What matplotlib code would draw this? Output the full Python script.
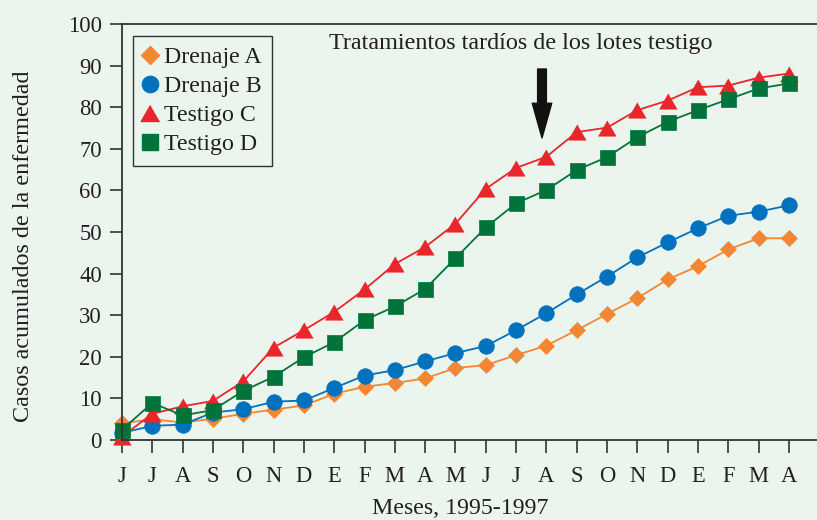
import matplotlib
matplotlib.use("Agg")
import matplotlib.pyplot as plt

plt.rcParams['font.family'] = ['Liberation Serif', 'DejaVu Serif']

months = ["J", "J", "A", "S", "O", "N", "D", "E", "F", "M", "A", "M",
          "J", "J", "A", "S", "O", "N", "D", "E", "F", "M", "A"]

drenaje_a = [4.0, 5.0, 4.2, 5.1, 6.3, 7.3, 8.3, 11.1, 12.8, 13.7, 14.8, 17.3,
             18.0, 20.4, 22.7, 26.4, 30.3, 34.1, 38.6, 41.8, 45.8, 48.5, 48.5]
drenaje_b = [1.7, 3.4, 3.7, 6.6, 7.4, 9.2, 9.5, 12.5, 15.5, 16.8, 18.9, 20.9,
             22.6, 26.4, 30.5, 35.0, 39.3, 43.9, 47.5, 50.9, 53.9, 54.9, 56.4]
testigo_c = [0.8, 6.3, 8.1, 9.4, 14.1, 22.2, 26.4, 30.8, 36.2, 42.3, 46.4, 52.0,
             60.4, 65.4, 68.1, 74.0, 75.1, 79.3, 81.6, 84.8, 85.2, 87.1, 88.1]
testigo_d = [2.5, 8.9, 5.9, 7.2, 11.8, 15.2, 19.9, 23.5, 28.8, 32.1, 36.3, 43.7,
             51.1, 56.9, 60.1, 64.9, 68.0, 72.8, 76.5, 79.3, 81.9, 84.5, 85.7]

annotation_text = "Tratamientos tardíos de los lotes testigo"
legend_labels = ["Drenaje A", "Drenaje B", "Testigo C", "Testigo D"]

BG = "#EBF5EE"
TXT = "#231F20"
C_A = "#F58634"
C_B = "#0071BC"
C_C = "#E8262B"
C_D = "#00733B"

W, H = 817, 520
fig = plt.figure(figsize=(W / 100, H / 100), dpi=100)
fig.patch.set_facecolor(BG)

x0, x1, y0, y1 = 122, 817, 24, 440
ax = fig.add_axes([x0 / W, 1 - y1 / H, (x1 - x0) / W, (y1 - y0) / H])
ax.set_facecolor(BG)

xs = list(range(len(months)))
tri = [(0, 0.866), (-1, -0.866), (1, -0.866)]

series = [
    (drenaje_a, C_A, "D", 8.6),
    (drenaje_b, C_B, "o", 11.2),
    (testigo_c, C_C, tri, 12.7),
    (testigo_d, C_D, "s", 10.8),
]
handles = []
for vals, col, mk, ms in series:
    h, = ax.plot(xs, vals, color=col, lw=1.3, marker=mk, markersize=ms,
                 markerfacecolor=col, markeredgecolor=col, markeredgewidth=0.5,
                 clip_on=False, zorder=3)
    handles.append(h)

px_per_x = (789 - 122) / 22
ax.set_xlim(0, (x1 - x0) / px_per_x)
ax.set_ylim(0, 100)
ax.set_xticks(xs)
ax.set_xticklabels(months)
ax.set_yticks(range(0, 101, 10))

for s in ["top", "bottom", "left"]:
    ax.spines[s].set_color("#333333")
    ax.spines[s].set_linewidth(1.3)
    ax.spines[s].set_zorder(4)
ax.spines["right"].set_visible(False)

ax.tick_params(axis="x", direction="out", length=9, width=1.2, pad=9.5,
               labelsize=16.3, colors="#333333", labelcolor=TXT)
ax.tick_params(axis="y", direction="out", length=9, width=1.2, pad=5.5,
               labelsize=16.3, colors="#333333", labelcolor=TXT)

leg = ax.legend(
    [plt.Line2D([], [], ls="none", marker=h.get_marker(), markersize=h.get_markersize() * 1.05,
                color=h.get_color()) for h in handles],
    legend_labels, loc="upper left",
    bbox_to_anchor=(133 / W, 1 - 36 / H), bbox_transform=fig.transFigure,
    borderaxespad=0, fontsize=17.2, handlelength=0.55, handletextpad=0.28,
    labelspacing=0.3, borderpad=0.45, fancybox=False, framealpha=1,
    facecolor=BG, edgecolor="#333333")
leg.get_frame().set_linewidth(1.0)
for t in leg.get_texts():
    t.set_color(TXT)

ax.text((521 - x0) / px_per_x, (440 - 43) / 4.16, annotation_text,
        ha="center", va="center", fontsize=17.4, color=TXT)

ax.annotate("", xy=((542 - x0) / px_per_x, (440 - 138) / 4.16),
            xytext=((542 - x0) / px_per_x, (440 - 69) / 4.16),
            arrowprops=dict(facecolor="#111111", edgecolor="#111111",
                            width=6.3, headwidth=14, headlength=25, shrink=0))

fig.text(460 / W, 1 - 509 / H, "Meses, 1995-1997", ha="center", va="center",
         fontsize=17.2, color=TXT)
fig.text(24 / W, 1 - 246 / H, "Casos acumulados de la enfermedad", ha="center",
         va="center", rotation=90, fontsize=17.4, color=TXT)

fig.savefig("out.png", dpi=100, facecolor=BG)
